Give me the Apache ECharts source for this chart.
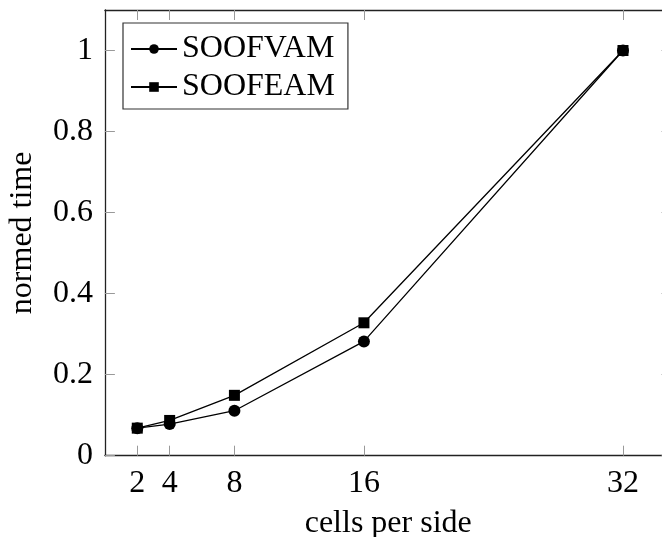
<!DOCTYPE html>
<html>
<head>
<meta charset="utf-8">
<script src="https://cdn.jsdelivr.net/npm/echarts@6/dist/echarts.min.js"></script>
<style>
  html, body { margin: 0; padding: 0; background: #fff; }
  #chart { width: 662px; height: 537px; }
</style>
</head>
<body>
<div id="chart"></div>
<script>
const cells = [2, 4, 8, 16, 32]
const soofvam = [0.068, 0.078, 0.111, 0.282, 1.0]
const soofeam = [0.068, 0.087, 0.149, 0.328, 1.0]
const xTicks = [2, 4, 8, 16, 32]
const yTicks = [0, 0.2, 0.4, 0.6, 0.8, 1]

const font = 'Liberation Serif'
const fs = 32
const unit = 16.19

const chart = echarts.init(document.getElementById('chart'))

const tickStyle = { color: '#999', width: 1 }
const lineAxis = { show: true, onZero: false, lineStyle: { color: '#222', width: 1.3 } }

let option = {
  animation: false,
  textStyle: { fontFamily: font, color: '#000' },
  grid: {
    left: 104.9,
    top: 10,
    width: 35 * unit,
    height: 445.7,
    outerBoundsMode: 'none'
  },
  legend: {
    left: 123,
    top: 23,
    orient: 'vertical',
    padding: [10, 13, 6, 7],
    itemGap: 6,
    itemWidth: 46,
    itemHeight: 12,
    borderColor: '#333',
    borderWidth: 1.2,
    textStyle: { fontFamily: font, fontSize: fs, color: '#000', lineHeight: 32 },
    data: ['SOOFVAM', 'SOOFEAM']
  },
  xAxis: [
    {
      type: 'value',
      min: 0,
      max: 35,
      name: 'cells per side',
      nameLocation: 'middle',
      nameGap: 52,
      nameTextStyle: { fontFamily: font, fontSize: fs, color: '#000' },
      axisLine: lineAxis,
      axisTick: { inside: true, length: 10, lineStyle: tickStyle, customValues: xTicks },
      axisLabel: { customValues: xTicks, fontFamily: font, fontSize: fs, color: '#000', margin: 12 },
      splitLine: { show: false }
    },
    {
      type: 'value',
      position: 'top',
      min: 0,
      max: 35,
      axisLine: lineAxis,
      axisTick: { inside: true, length: 10, lineStyle: tickStyle, customValues: xTicks },
      axisLabel: { show: false },
      splitLine: { show: false }
    }
  ],
  yAxis: [
    {
      type: 'value',
      min: 0,
      max: 1.1,
      name: 'normed time',
      nameLocation: 'middle',
      nameGap: 66,
      nameTextStyle: { fontFamily: font, fontSize: fs, color: '#000' },
      axisLine: lineAxis,
      axisTick: { inside: true, length: 10, lineStyle: tickStyle, customValues: yTicks },
      axisLabel: { customValues: yTicks, fontFamily: font, fontSize: fs, color: '#000', margin: 12 },
      splitLine: { show: false }
    },
    {
      type: 'value',
      position: 'right',
      min: 0,
      max: 1.1,
      axisLine: lineAxis,
      axisTick: { inside: true, length: 10, lineStyle: tickStyle, customValues: yTicks },
      axisLabel: { show: false },
      splitLine: { show: false }
    }
  ],
  series: [
    {
      name: 'SOOFVAM',
      type: 'line',
      data: cells.map((c, i) => [c, soofvam[i]]),
      symbol: 'circle',
      symbolSize: 12,
      itemStyle: { color: '#000' },
      lineStyle: { color: '#000', width: 1.3 }
    },
    {
      name: 'SOOFEAM',
      type: 'line',
      data: cells.map((c, i) => [c, soofeam[i]]),
      symbol: 'rect',
      symbolSize: 11,
      itemStyle: { color: '#000' },
      lineStyle: { color: '#000', width: 1.3 }
    }
  ]
}

chart.setOption(option)
</script>
</body>
</html>
